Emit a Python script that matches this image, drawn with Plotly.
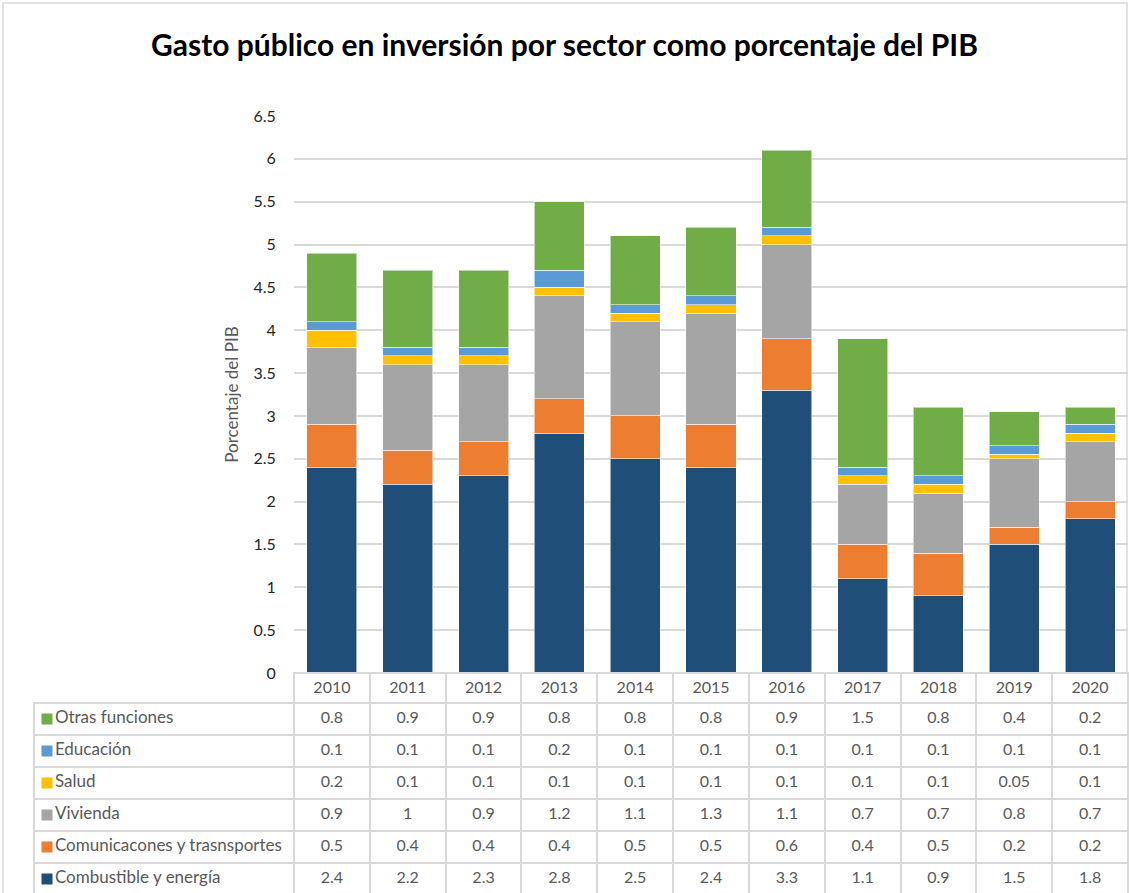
import plotly.graph_objects as go

years = ["2010", "2011", "2012", "2013", "2014", "2015", "2016", "2017", "2018", "2019", "2020"]

combustible = [2.4, 2.2, 2.3, 2.8, 2.5, 2.4, 3.3, 1.1, 0.9, 1.5, 1.8]
comunicaciones = [0.5, 0.4, 0.4, 0.4, 0.5, 0.5, 0.6, 0.4, 0.5, 0.2, 0.2]
vivienda = [0.9, 1, 0.9, 1.2, 1.1, 1.3, 1.1, 0.7, 0.7, 0.8, 0.7]
salud = [0.2, 0.1, 0.1, 0.1, 0.1, 0.1, 0.1, 0.1, 0.1, 0.05, 0.1]
educacion = [0.1, 0.1, 0.1, 0.2, 0.1, 0.1, 0.1, 0.1, 0.1, 0.1, 0.1]
otras = [0.8, 0.9, 0.9, 0.8, 0.8, 0.8, 0.9, 1.5, 0.8, 0.4, 0.2]

# bottom -> top stacking order
series_names = ["Combustible y energía", "Comunicacones y trasnsportes", "Vivienda",
                "Salud", "Educación", "Otras funciones"]
series_values = [combustible, comunicaciones, vivienda, salud, educacion, otras]
series_colors = ["#1F4E79", "#ED7D31", "#A5A5A5", "#FFC000", "#5B9BD5", "#70AD47"]

W, H = 1129, 893
FONT = "Lato"
GRAY = "#595959"
GRID = "#D9D9D9"

x0 = 294 / W
x1 = 1128 / W
ybot = (H - 673) / H
ytop = (H - 116) / H
HEADER_H = 30
ROW_H = 32

fig = go.Figure()
for name, vals, col in zip(series_names, series_values, series_colors):
    fig.add_trace(go.Bar(
        x=years, y=vals, name=name,
        marker=dict(color=col, line=dict(color="rgba(255,255,255,0.55)", width=1)),
        xaxis="x", yaxis="y", showlegend=False,
    ))

# data table (top row = last stacked series)
order = list(range(len(series_names)))[::-1]
value_cols = [[f"{series_values[k][i]:g}" for k in order] for i in range(len(years))]

first_w = x0 * W - 34
col_w = (x1 - x0) * W / len(years)
nY = len(years)

fig.add_trace(go.Table(
    domain=dict(x=[34 / W, x1], y=[0, ybot]),
    columnwidth=[first_w] + [col_w] * nY,
    header=dict(
        values=[""] + years,
        height=HEADER_H,
        align="center",
        fill_color=["rgba(0,0,0,0)"] + ["white"] * nY,
        line=dict(color=["rgba(0,0,0,0)"] + [GRID] * nY, width=2),
        font=dict(family=FONT, size=16, color=GRAY),
    ),
    cells=dict(
        values=[[""] * len(order)] + value_cols,
        height=ROW_H,
        align="center",
        fill_color=["rgba(0,0,0,0)"] + ["white"] * nY,
        line=dict(color=GRID, width=2),
        font=dict(family=FONT, size=16, color=GRAY),
    ),
))

# legend keys + row labels of the table, drawn on a hidden axis aligned to the table rows
rows_px = (ybot * H) - HEADER_H  # height of the body rows area in px from bottom
first_center = rows_px - (len(order) - 0.5) * ROW_H  # px of bottom row centre from bottom
y_lo = -first_center / ROW_H
y_hi = (rows_px - first_center) / ROW_H
fig.add_trace(go.Scatter(
    x=[0] * len(series_names), y=list(range(len(series_names))),
    mode="markers+text",
    text=series_names, textposition="middle right",
    textfont=dict(family=FONT, size=17, color=GRAY),
    marker=dict(symbol="square", size=11, color=series_colors, line=dict(width=0)),
    xaxis="x2", yaxis="y2", showlegend=False, hoverinfo="skip", cliponaxis=False,
))

fig.update_layout(
    width=W, height=H,
    margin=dict(l=0, r=0, t=0, b=0),
    paper_bgcolor="white", plot_bgcolor="rgba(0,0,0,0)",
    barmode="stack", bargap=0.34,
    title=dict(
        text="<b>Gasto público en inversión por sector como porcentaje del PIB</b>",
        x=0.5, xanchor="center", y=1 - 45 / H, yanchor="middle",
        font=dict(family=FONT, size=30, color="black"),
    ),
    xaxis=dict(domain=[x0, x1], showticklabels=False, showgrid=False, zeroline=False,
               showline=False, fixedrange=True, automargin=False),
    yaxis=dict(domain=[ybot, ytop], range=[0, 6.5], dtick=0.5, tick0=0,
               showgrid=True, gridcolor=GRID, gridwidth=1.5, zeroline=False, showline=False,
               ticks="outside", ticklen=14, tickcolor="rgba(0,0,0,0)", automargin=False,
               tickfont=dict(family=FONT, size=16, color="#262626"),
               title=dict(text="Porcentaje del PIB", standoff=10,
                          font=dict(family=FONT, size=17, color=GRAY))),
    xaxis2=dict(domain=[34 / W, x0], range=[-13, first_w - 13], visible=False,
                automargin=False, fixedrange=True),
    yaxis2=dict(domain=[0, rows_px / H], range=[y_lo, y_hi], visible=False,
                automargin=False, fixedrange=True),
    font=dict(family=FONT),
    shapes=[dict(type="rect", xref="paper", yref="paper",
                 x0=3 / W, x1=1127 / W, y0=-0.01, y1=1 - 3 / H,
                 line=dict(color=GRID, width=1.5), fillcolor="rgba(0,0,0,0)", layer="below")],
)

fig.write_html(
    "out.html",
    config={"displayModeBar": False},
    post_script="document.body.style.margin='0';document.body.style.overflow='hidden';",
)
